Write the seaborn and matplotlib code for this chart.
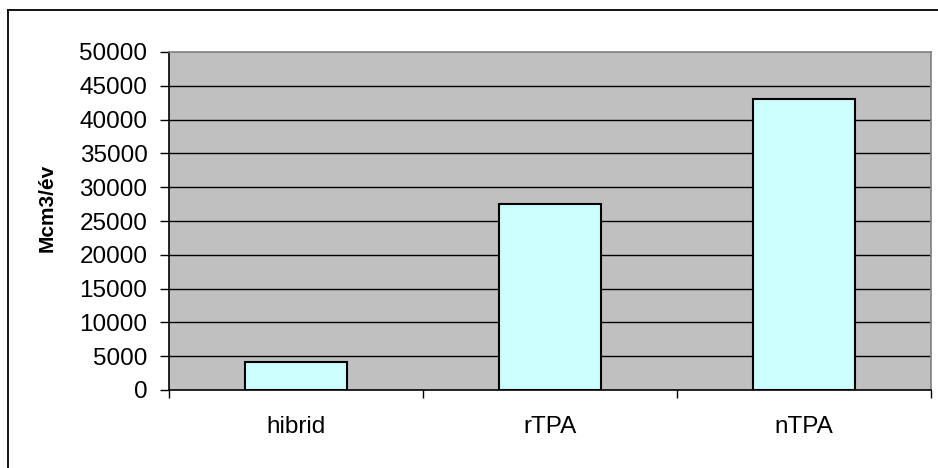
import numpy as np
import pandas as pd
import matplotlib
matplotlib.use('Agg')
import matplotlib.pyplot as plt
import seaborn as sns
from matplotlib.lines import Line2D

categories = ['hibrid', 'rTPA', 'nTPA']
values = [4100, 27450, 43100]
y_ticks = list(range(0, 50001, 5000))

plt.rcParams['font.family'] = ['Liberation Sans', 'DejaVu Sans']

df = pd.DataFrame({'kat': categories, 'ertek': values})

fig = plt.figure(figsize=(9.38, 4.68), dpi=100)
ax = fig.add_axes([169/938, 1 - 390/468, (931-169)/938, (390-52)/468])
ax.set_facecolor('#C0C0C0')

sns.barplot(data=df, x='kat', y='ertek', color='#CCFFFF', saturation=1,
            edgecolor='black', linewidth=1.5, width=0.4, ax=ax, zorder=3)

ax.set_ylim(0, 50000)
ax.set_xlim(-0.5, 2.5)
ax.set_yticks(y_ticks)
ax.set_yticklabels([str(t) for t in y_ticks], fontsize=17.5)
for t in y_ticks[1:-1]:
    ax.axhline(t, color='black', lw=1.0, zorder=1)

ax.set_xticks(range(len(categories)))
ax.set_xticklabels(categories, fontsize=17.5)
ax.set_xticks([-0.5, 0.5, 1.5, 2.5], minor=True)
ax.tick_params(axis='x', which='major', length=0, pad=19)
ax.tick_params(axis='x', which='minor', length=6, width=1, color='black')
ax.tick_params(axis='y', length=6.5, width=1, pad=9, color='black')

ax.set_xlabel('')
ax.set_ylabel('')
for s in ['top', 'right']:
    ax.spines[s].set_color('#808080')
    ax.spines[s].set_linewidth(1.2)
for s in ['left', 'bottom']:
    ax.spines[s].set_color('black')
    ax.spines[s].set_linewidth(1.2)

fig.text(47/938, 1 - 208/468, 'Mcm3/év', rotation=90, fontsize=15,
         fontweight='bold', ha='center', va='center')

# chart frame (right and bottom edges fall outside the picture)
fig.add_artist(Line2D([8/938, 8/938], [0, 1 - 10/468], color='black', lw=1.3,
                      transform=fig.transFigure))
fig.add_artist(Line2D([8/938, 1], [1 - 10/468, 1 - 10/468], color='black', lw=1.3,
                      transform=fig.transFigure))

fig.savefig('out.png', dpi=100)
